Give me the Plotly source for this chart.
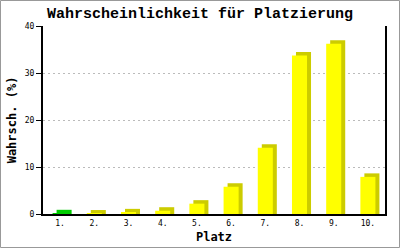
import plotly.graph_objects as go

places = [1, 2, 3, 4, 5, 6, 7, 8, 9, 10]
tick_labels = ["1.", "2.", "3.", "4.", "5.", "6.", "7.", "8.", "9.", "10."]
probabilities = [0.15, 0.1, 0.35, 0.7, 2.2, 5.8, 14.1, 33.7, 36.2, 7.9]
front_colors = ["#00CC00"] + ["#FFFF00"] * 9
side_colors = ["#00CC00"] + ["#CCCC00"] * 9

W, H = 400, 250
ML, MR, MT, MB = 43, 15, 26, 36
PW, PH = W - ML - MR, H - MT - MB
YMAX = 40
cat_px = PW / 10.0
depth_x = 4 / cat_px
depth_y = 3.5 * YMAX / PH
bw = 0.44

fig = go.Figure()
fig.add_trace(go.Bar(
    x=places, y=[v + depth_y for v in probabilities], base=0,
    width=bw, offset=-bw / 2 + depth_x,
    marker=dict(color=side_colors, line=dict(width=0)),
    hoverinfo="skip", showlegend=False,
))
fig.add_trace(go.Bar(
    x=places, y=probabilities, base=0,
    width=bw, offset=-bw / 2,
    marker=dict(color=front_colors, line=dict(width=0)),
    showlegend=False,
))

mono = "DejaVu Sans Mono"
fig.update_layout(
    width=W, height=H, barmode="overlay",
    margin=dict(l=ML, r=MR, t=MT, b=MB, pad=0, autoexpand=False),
    paper_bgcolor="white", plot_bgcolor="white",
    title=dict(text="<b>Wahrscheinlichkeit für Platzierung</b>", x=0.5, xref="container",
               y=1 - 13 / H, yanchor="middle",
               font=dict(family="Liberation Mono", size=15, color="black")),
    xaxis=dict(
        range=[0.5, 10.5], tickmode="array", tickvals=places, ticktext=tick_labels,
        showgrid=False, zeroline=False, showline=True, linecolor="black", linewidth=2,
        ticks="", tickfont=dict(family=mono, size=8, color="black"), automargin=False,
        title=dict(text="<b>Platz</b>", font=dict(family=mono, size=12, color="black"), standoff=6),
    ),
    yaxis=dict(
        range=[0, YMAX], tickvals=[0, 10, 20, 30, 40], automargin=False,
        showgrid=True, gridcolor="#BBBBBB", griddash="2px,3px", gridwidth=1,
        zeroline=False, showline=True, linecolor="black", linewidth=2, mirror=True,
        ticks="outside", ticklen=5, tickcolor="black", tickwidth=1,
        tickfont=dict(family=mono, size=8, color="black"),
        title=dict(text="<b>Wahrsch. (%)</b>", font=dict(family=mono, size=12, color="black"), standoff=6),
    ),
)

fig.add_shape(
    type="rect", xref="paper", yref="paper", layer="below",
    x0=(0.5 - ML) / PW, x1=(399.5 - ML) / PW,
    y0=(MT + PH - 247.5) / PH, y1=(MT + PH - 0.5) / PH,
    line=dict(color="#999999", width=1), fillcolor="rgba(0,0,0,0)",
)

fig.write_html("out.html")
